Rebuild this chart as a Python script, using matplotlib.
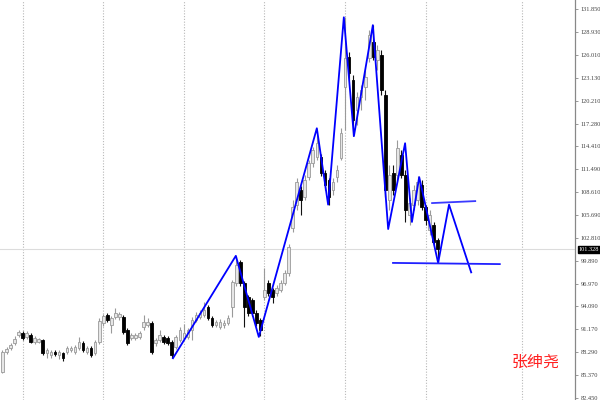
import matplotlib
matplotlib.use("Agg")
import matplotlib.pyplot as plt
import numpy as np

# daily candles (price units)
opens = [85.8, 88.3, 88.8, 89.4, 90.4, 90.7, 90.2, 90.4, 89.6, 89.6,
         89.8, 88.2, 87.9, 88.3, 87.9, 88.2, 88.3, 88.5, 88.3, 88.8,
         89.4, 88.3, 88.8, 88.2, 89.6, 92.0, 93.0, 91.7, 92.7, 92.7,
         92.7, 91.1, 90.1, 90.1, 90.2, 91.5, 91.7, 92.0, 89.4, 89.8,
         90.2, 90.1, 89.6, 88.9, 89.8, 90.1, 90.2, 91.1, 92.4, 92.7,
         93.0, 94.0, 92.6, 91.7, 91.5, 91.7, 92.0, 94.0, 97.1, 99.7,
         97.1, 95.3, 94.9, 93.2, 92.4, 95.3, 97.1, 96.2, 95.8, 96.2,
         97.1, 98.3, 104.0, 106.9, 108.9, 108.0, 110.5, 112.3, 113.1, 113.1,
         111.0, 110.1, 108.9, 110.5, 112.9, 121.9, 125.8, 122.8, 119.0, 120.7,
         121.9, 125.6, 127.7, 125.4, 126.0, 120.9, 107.6, 111.0, 110.8, 113.3,
         110.8, 105.7, 107.0, 107.6, 109.5, 106.7, 103.8, 104.4, 102.5]
highs = [88.5, 88.9, 89.4, 90.3, 91.1, 91.0, 91.0, 90.7, 90.3, 90.1,
         89.9, 88.8, 88.5, 88.5, 88.5, 88.3, 89.1, 89.1, 89.2, 90.2,
         89.7, 89.1, 89.1, 89.8, 92.6, 93.1, 93.2, 92.9, 93.9, 93.4,
         93.0, 91.3, 90.7, 90.7, 91.0, 93.0, 92.6, 92.2, 90.1, 91.1,
         90.4, 90.3, 89.8, 90.4, 91.5, 91.8, 91.3, 92.7, 93.4, 93.6,
         94.6, 94.3, 92.9, 92.4, 92.5, 92.4, 93.0, 97.4, 100.5, 100.0,
         97.3, 95.5, 95.2, 93.6, 92.6, 99.0, 97.4, 96.4, 96.8, 97.4,
         98.7, 102.0, 107.6, 110.4, 109.4, 110.8, 112.7, 114.3, 115.8, 113.4,
         111.4, 110.4, 110.4, 112.0, 116.7, 130.8, 126.4, 123.5, 121.3, 122.2,
         124.1, 129.2, 129.8, 127.3, 126.6, 121.6, 112.0, 112.0, 115.2, 113.9,
         111.4, 107.8, 109.5, 110.6, 110.1, 107.0, 106.3, 104.8, 102.8]
lows = [85.6, 88.0, 88.5, 89.2, 90.2, 89.8, 89.9, 89.4, 89.3, 89.4,
        87.9, 87.5, 87.5, 87.8, 87.4, 87.1, 88.0, 88.3, 88.0, 88.5,
        88.3, 88.0, 87.7, 87.9, 89.3, 91.6, 92.1, 90.7, 92.5, 92.4,
        90.6, 89.2, 89.8, 89.8, 89.9, 91.1, 91.5, 88.0, 89.0, 89.6,
        89.3, 89.2, 87.5, 88.7, 89.6, 89.8, 89.9, 89.8, 92.1, 92.5,
        92.7, 92.4, 91.5, 91.5, 91.2, 91.3, 91.7, 92.7, 96.7, 96.7,
        91.5, 92.9, 92.9, 91.6, 90.3, 94.9, 95.4, 94.5, 95.4, 95.9,
        96.8, 97.9, 103.5, 106.3, 105.7, 107.6, 110.1, 111.8, 112.7, 110.6,
        108.9, 107.0, 108.2, 109.9, 112.7, 116.5, 122.8, 115.7, 117.1, 119.0,
        120.3, 125.1, 125.4, 124.1, 120.9, 108.0, 106.3, 108.2, 110.1, 110.4,
        104.8, 104.4, 106.3, 107.0, 106.3, 104.4, 103.2, 101.9, 99.7]
closes = [88.3, 88.7, 89.2, 89.9, 90.8, 90.1, 90.7, 89.6, 90.1, 89.9,
          88.2, 88.5, 88.3, 88.0, 88.3, 87.5, 88.8, 88.8, 88.9, 89.6,
          88.5, 88.8, 87.9, 89.6, 92.2, 92.9, 92.4, 92.6, 93.2, 93.1,
          90.8, 89.4, 90.4, 90.4, 90.7, 92.1, 92.1, 88.3, 89.8, 90.4,
          89.6, 89.4, 87.9, 90.2, 91.1, 90.7, 91.1, 92.4, 93.0, 93.2,
          93.6, 92.6, 91.7, 92.1, 92.1, 92.0, 92.6, 97.2, 99.3, 97.1,
          94.0, 93.2, 93.2, 92.0, 91.1, 96.2, 95.8, 95.3, 96.4, 97.1,
          98.3, 101.6, 106.7, 109.9, 107.6, 110.1, 112.3, 113.9, 114.8, 111.0,
          109.5, 108.0, 109.9, 111.4, 116.1, 125.6, 123.7, 117.8, 120.7, 121.6,
          123.2, 128.5, 125.8, 126.6, 121.6, 108.9, 110.8, 108.9, 114.2, 110.8,
          106.3, 107.2, 108.9, 109.9, 106.7, 105.1, 105.7, 102.3, 101.328]

# hand drawn zigzag (bar index, price)
zig_x = [42.3, 57.9, 63.6, 78.0, 80.8, 84.7, 87.2, 91.9, 95.7, 99.9, 101.6, 103.4, 108.1, 110.8, 116.3]
zig_y = [87.5, 100.5, 90.2, 116.7, 107.0, 130.8, 115.7, 129.8, 103.9, 114.8, 104.8, 110.5, 99.6, 107.0, 98.4]
upper_x = [106.6, 117.3]
upper_y = [107.2, 107.45]
lower_x = [96.9, 123.4]
lower_y = [99.6, 99.45]

ticks = [131.850, 128.930, 126.010, 123.130, 120.210, 117.280, 114.410, 111.490, 108.610,
         105.690, 102.810, 99.890, 96.970, 94.090, 91.170, 88.290, 85.370, 82.450]
grid_bars = [5, 25, 45, 65, 85, 105, 129]
last_price = 101.328

fig = plt.figure(figsize=(6, 4), dpi=100)
ax = fig.add_axes([0, 0, 575 / 600, 1])
ax.set_xlim(-0.62, 142.06)
ax.set_ylim(82.19, 132.99)

for g in grid_bars:
    ax.axvline(g, color="#b8b8b8", lw=0.8, ls=(0, (1, 1.5)), zorder=0)
ax.axhline(last_price, color="#dcdcdc", lw=0.8, zorder=0)

w = 0.65
for i in range(len(opens)):
    o, h, l, c = opens[i], highs[i], lows[i], closes[i]
    if c >= o:
        ax.vlines(i, l, h, color="#9a9a9a", lw=0.8, zorder=2)
        ax.bar(i, c - o, bottom=o, width=w, facecolor="#e6e6e6", edgecolor="#9a9a9a", lw=0.6, zorder=3)
    else:
        ax.vlines(i, l, h, color="#111111", lw=0.8, zorder=2)
        ax.bar(i, o - c, bottom=c, width=w, facecolor="#000000", edgecolor="#000000", lw=0.6, zorder=3)

ax.plot(zig_x, zig_y, color="#0000ff", lw=1.3, zorder=4)
ax.plot(upper_x, upper_y, color="#3a3aff", lw=1.3, zorder=4)
ax.plot(lower_x, lower_y, color="#2020ff", lw=1.3, zorder=4)

for s in ["top", "left", "bottom"]:
    ax.spines[s].set_visible(False)
ax.spines["right"].set_color("#888888")
ax.spines["right"].set_linewidth(0.9)
ax.set_xticks([])
ax.yaxis.tick_right()
ax.set_yticks(ticks)
ax.set_yticklabels([f"{t:.3f}" for t in ticks], fontsize=4.6, family="Liberation Serif", color="#444444")
ax.tick_params(axis="y", direction="out", length=2.5, width=0.6, color="#888888", pad=1.5)

ax.annotate(f"{last_price:.3f}", xy=(1.0, last_price), xycoords=("axes fraction", "data"),
            xytext=(2.5, 0), textcoords="offset points", ha="left", va="center",
            fontsize=4.6, family="Liberation Serif", color="white",
            bbox=dict(boxstyle="square,pad=0.15", fc="black", ec="black"))

fig.text(536 / 600, 1 - 362 / 400, "张绅尧", color="#ff2020", fontsize=11.5,
         family=["Noto Sans CJK SC", "DejaVu Sans"], ha="center", va="center")

fig.savefig("out.png", dpi=100)
